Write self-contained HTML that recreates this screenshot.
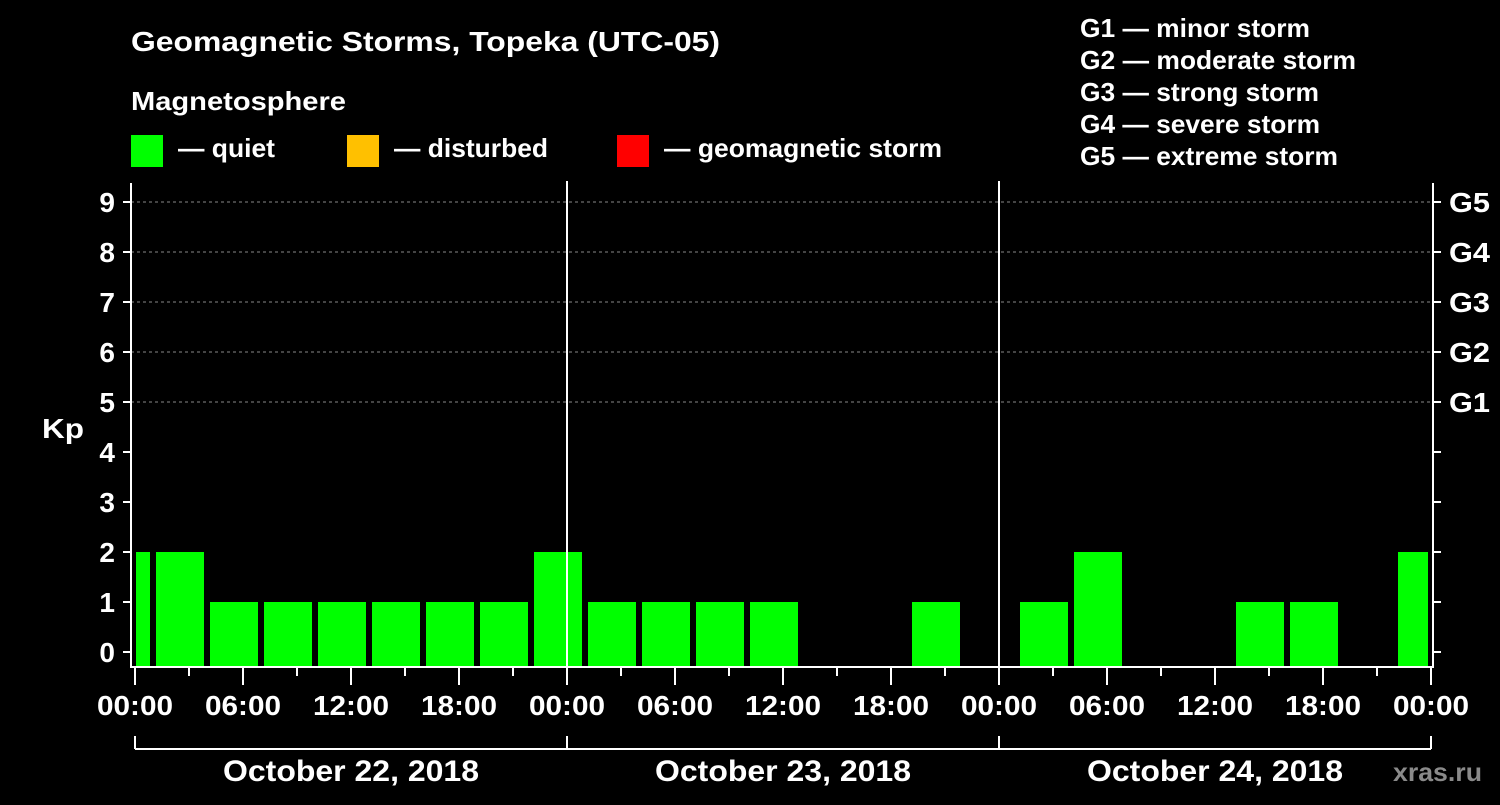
<!DOCTYPE html>
<html><head><meta charset="utf-8"><style>
body{margin:0;background:#000;width:1500px;height:800px;overflow:hidden}
svg text{font-family:"Liberation Sans",sans-serif;font-weight:bold;fill:#fff}
</style></head><body>
<svg id="c" width="1500" height="800">
<text x="131" y="51" font-size="28" textLength="589" lengthAdjust="spacingAndGlyphs">Geomagnetic Storms, Topeka (UTC-05)</text>
<text x="131" y="110" font-size="26" textLength="215" lengthAdjust="spacingAndGlyphs">Magnetosphere</text>
<g><rect x="131" y="135" width="32" height="32" fill="#00ff00"/><text x="178" y="157" font-size="26" textLength="97" lengthAdjust="spacingAndGlyphs">— quiet</text></g>
<g><rect x="347" y="135" width="32" height="32" fill="#ffc000"/><text x="394" y="157" font-size="26" textLength="154" lengthAdjust="spacingAndGlyphs">— disturbed</text></g>
<g><rect x="617" y="135" width="32" height="32" fill="#ff0000"/><text x="664" y="157" font-size="26" textLength="278" lengthAdjust="spacingAndGlyphs">— geomagnetic storm</text></g>
<g font-size="26">
<text x="1080" y="37" textLength="230" lengthAdjust="spacingAndGlyphs">G1 — minor storm</text><text x="1080" y="69" textLength="276" lengthAdjust="spacingAndGlyphs">G2 — moderate storm</text><text x="1080" y="101" textLength="239" lengthAdjust="spacingAndGlyphs">G3 — strong storm</text><text x="1080" y="133" textLength="240" lengthAdjust="spacingAndGlyphs">G4 — severe storm</text><text x="1080" y="165" textLength="258" lengthAdjust="spacingAndGlyphs">G5 — extreme storm</text></g>
<text x="42" y="438" font-size="28" textLength="42" lengthAdjust="spacingAndGlyphs">Kp</text>
<text x="1393" y="781" font-size="26" textLength="89" lengthAdjust="spacingAndGlyphs" style="fill:#8a8a8a">xras.ru</text>
<g id="grid"></g><g id="bars"></g><g id="axes"></g>
</svg>
<script>
const kpValues=[2,2,1,1,1,1,1,1,2, 1,1,1,1,0,0,1,0, 1,2,0,0,1,1,0,2];
const slotStartHours=[-2,1,4,7,10,13,16,19,22,25,28,31,34,37,40,43,46,49,52,55,58,61,64,67,70];
const dayLabels=["October 22, 2018","October 23, 2018","October 24, 2018"];
const gLabels=["G1","G2","G3","G4","G5"];
const NS="http://www.w3.org/2000/svg";
const x0=135,pxH=18,L=131,R=1433,B=667;
const X=h=>x0+h*pxH, Y=v=>652-v*50;
function mk(t,a,p){const e=document.createElementNS(NS,t);for(const k in a)e.setAttribute(k,a[k]);(p||document.getElementById('axes')).appendChild(e);return e;}
const grid=document.getElementById('grid'),bars=document.getElementById('bars');
for(let v=5;v<=9;v++){const l=mk('line',{x1:L,x2:R,y1:Y(v),y2:Y(v),stroke:'#888','stroke-dasharray':'3,3','stroke-width':1},grid);

}
kpValues.forEach((v,i)=>{if(v<=0)return;const s=slotStartHours[i];
let xa=Math.max(X(s)+3,X(0)+1),xb=Math.min(X(s+3)-3,X(72)-3);
const r=mk('rect',{x:xa,y:Y(v),width:xb-xa,height:B-Y(v),fill:'#00ff00'},bars);

});
const A={stroke:'#fff','stroke-width':2};
mk('line',{x1:L,x2:L,y1:183,y2:B+1,...A});mk('line',{x1:R,x2:R,y1:183,y2:B+1,...A});mk('line',{x1:L,x2:R,y1:B,y2:B,...A});
for(let d=1;d<3;d++)mk('line',{x1:X(24*d),x2:X(24*d),y1:181,y2:B,...A});
for(let v=0;v<=9;v++){mk('line',{x1:L-8,x2:L,y1:Y(v),y2:Y(v),...A});mk('line',{x1:R,x2:R+8,y1:Y(v),y2:Y(v),...A});
const t=mk('text',{x:115,y:Y(v)+10,'font-size':28,'text-anchor':'end'});t.textContent=v;

}
gLabels.forEach((g,i)=>{const t=mk('text',{x:1449,y:Y(5+i)+10,'font-size':28,textLength:41,lengthAdjust:'spacingAndGlyphs'});t.textContent=g;

});
for(let h=0;h<=72;h+=3){const maj=h%6==0;mk('line',{x1:X(h),x2:X(h),y1:B,y2:maj?685:676,...A});
if(maj){const hh=h%24;const t=mk('text',{x:X(h)-38,y:715,'font-size':28,textLength:76,lengthAdjust:'spacingAndGlyphs'});t.textContent=String(hh).padStart(2,'0')+':00';

}}
mk('line',{x1:X(0),x2:X(72),y1:749,y2:749,...A});
for(let d=0;d<=3;d++)mk('line',{x1:X(24*d),x2:X(24*d),y1:736,y2:749,...A});
dayLabels.forEach((s,i)=>{const t=mk('text',{x:X(24*i+12)-128,y:781,'font-size':30,textLength:256,lengthAdjust:'spacingAndGlyphs'});t.textContent=s;

});
</script>
</body></html>
